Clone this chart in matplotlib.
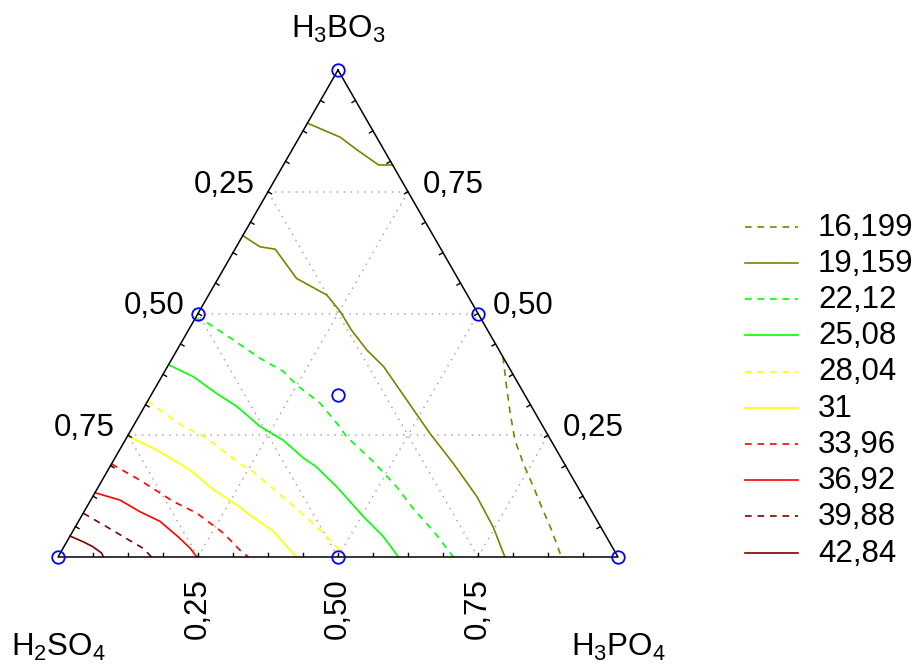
import numpy as np
import matplotlib
matplotlib.use('Agg')
import matplotlib.pyplot as plt

plt.rcParams['font.family'] = ['Liberation Sans', 'DejaVu Sans']
plt.rcParams['mathtext.fontset'] = 'custom'
plt.rcParams['mathtext.rm'] = 'Liberation Sans'

# contour levels and legend labels
levels = [16.199, 19.159, 22.12, 25.08, 28.04, 31, 33.96, 36.92, 39.88, 42.84]
level_labels = ['16,199', '19,159', '22,12', '25,08', '28,04', '31',
                '33,96', '36,92', '39,88', '42,84']
level_colors = ['#808000', '#808000', '#00ff00', '#00ff00', '#ffff00', '#ffff00',
                '#ff0000', '#ff0000', '#800000', '#800000']

# contour lines: fraction of H3BO3 (boric) and H3PO4 (phos)
c16199_boric = [0.411, 0.350, 0.295, 0.240, 0.192, 0.144, 0.103, 0.055, 0.0]
c16199_phos = [0.589, 0.626, 0.660, 0.696, 0.735, 0.777, 0.812, 0.854, 0.899]

c19159_top_boric = [0.891, 0.877, 0.862, 0.836, 0.805, 0.805]
c19159_top_phos = [0.0, 0.035, 0.073, 0.116, 0.170, 0.195]

c19159_boric = [0.660, 0.637, 0.632, 0.572, 0.538, 0.504, 0.466, 0.425, 0.391,
                0.322, 0.254, 0.192, 0.124, 0.062, 0.0]
c19159_phos = [0.0, 0.042, 0.072, 0.140, 0.211, 0.252, 0.291, 0.339, 0.386,
               0.462, 0.537, 0.610, 0.686, 0.746, 0.798]

c22120_boric = [0.491, 0.480, 0.446, 0.408, 0.381, 0.353, 0.316, 0.271, 0.247,
                0.196, 0.144, 0.100, 0.049, 0.0]
c22120_phos = [0.0, 0.028, 0.090, 0.157, 0.212, 0.250, 0.310, 0.365, 0.392,
               0.465, 0.533, 0.584, 0.649, 0.706]

c25080_boric = [0.395, 0.370, 0.336, 0.309, 0.268, 0.240, 0.203, 0.185, 0.144,
                0.083, 0.042, 0.0]
c25080_phos = [0.0, 0.057, 0.115, 0.165, 0.227, 0.282, 0.337, 0.369, 0.426,
               0.504, 0.560, 0.608]

c28040_boric = [0.320, 0.268, 0.244, 0.192, 0.175, 0.134, 0.093, 0.049, 0.0]
c28040_phos = [0.0, 0.090, 0.144, 0.229, 0.261, 0.324, 0.386, 0.449, 0.516]

c31000_boric = [0.249, 0.220, 0.179, 0.138, 0.103, 0.086, 0.055, 0.0]
c31000_phos = [0.0, 0.066, 0.146, 0.209, 0.273, 0.300, 0.355, 0.426]

c33960_boric = [0.191, 0.158, 0.114, 0.090, 0.049, 0.014, 0.0]
c33960_phos = [0.0, 0.067, 0.149, 0.203, 0.271, 0.318, 0.340]

c36920_boric = [0.132, 0.117, 0.093, 0.073, 0.038, 0.018, 0.0]
c36920_phos = [0.0, 0.052, 0.100, 0.146, 0.199, 0.227, 0.248]

c39880_boric = [0.090, 0.062, 0.036, 0.018, 0.0]
c39880_phos = [0.0, 0.056, 0.107, 0.143, 0.167]

c42840_boric = [0.043, 0.031, 0.021, 0.008, 0.0]
c42840_phos = [0.0, 0.030, 0.052, 0.074, 0.081]

# design points (simplex centroid)
design_boric = [1, 0, 0, 0.5, 0.5, 0, 1 / 3]
design_phos = [0, 0, 1, 0, 0.5, 0.5, 1 / 3]

grid_vals = [0.25, 0.5, 0.75]
grid_labels = ['0,25', '0,50', '0,75']

contours = [
    (0, c16199_boric, c16199_phos),
    (1, c19159_top_boric, c19159_top_phos),
    (1, c19159_boric, c19159_phos),
    (2, c22120_boric, c22120_phos),
    (3, c25080_boric, c25080_phos),
    (4, c28040_boric, c28040_phos),
    (5, c31000_boric, c31000_phos),
    (6, c33960_boric, c33960_phos),
    (7, c36920_boric, c36920_phos),
    (8, c39880_boric, c39880_phos),
    (9, c42840_boric, c42840_phos),
]


def tern(boric, phos):
    boric = np.asarray(boric, dtype=float)
    phos = np.asarray(phos, dtype=float)
    return phos + boric / 2, boric


def style(i):
    return (0, (4, 3.5)) if i % 2 == 0 else '-'


fig = plt.figure(figsize=(9.2, 6.7), dpi=100)
ax = fig.add_axes([58 / 920, 113 / 670, 560 / 920, 487 / 670])
ax.set_xlim(0, 1)
ax.set_ylim(0, 1)
ax.axis('off')

fs = 22.5

# dotted grid
for k in grid_vals:
    for b, p in [([k, k], [0, 1 - k]), ([0, 1 - k], [k, k]), ([0, 1 - k], [1 - k, 0])]:
        x, y = tern(b, p)
        ax.plot(x, y, color='#aaaaaa', lw=1.1, ls=(0, (1, 3.5)), zorder=1)

# contour lines
for i, b, p in contours:
    x, y = tern(b, p)
    ax.plot(x, y, color=level_colors[i], lw=1.2, ls=style(i), zorder=3)

# triangle edges
x, y = tern([1, 0, 0, 1], [0, 0, 1, 0])
ax.plot(x, y, color='black', lw=1.1, zorder=4, clip_on=False)

# small inward ticks every 1/16
tl = 4.0
for t in np.arange(1, 16) / 16:
    # bottom edge
    x0, y0 = tern(0, t)
    ax.plot([x0, x0], [y0, y0 + tl / 487], color='black', lw=1.0, zorder=4)
    # left edge
    x0, y0 = tern(t, 0)
    ax.plot([x0, x0 + 0.867 * tl / 560], [y0, y0 - 0.498 * tl / 487], color='black', lw=1.0, zorder=4)
    # right edge
    x0, y0 = tern(t, 1 - t)
    ax.plot([x0, x0 - 0.867 * tl / 560], [y0, y0 - 0.498 * tl / 487], color='black', lw=1.0, zorder=4)

# design points
x, y = tern(design_boric, design_phos)
ax.plot(x, y, 'o', ms=9, mfc='none', mec='#0000ff', mew=1.3, zorder=5, clip_on=False)

# tick labels
for k, lab in zip(grid_vals, grid_labels):
    ax.annotate(lab, tern(0, k), xytext=(0, -52), textcoords='offset pixels',
                rotation=90, ha='center', va='center', fontsize=fs)
    ax.annotate(lab, tern(1 - k, 0), xytext=(-13, 7), textcoords='offset pixels',
                ha='right', va='center', fontsize=fs)
    ax.annotate(lab, tern(k, 1 - k), xytext=(15, 7), textcoords='offset pixels',
                ha='left', va='center', fontsize=fs)

# vertex labels
ax.annotate(r'H$_\mathregular{3}$BO$_\mathregular{3}$', tern(1, 0), xytext=(0, 41),
            textcoords='offset pixels', ha='center', va='center', fontsize=fs)
ax.annotate(r'H$_\mathregular{2}$SO$_\mathregular{4}$', tern(0, 0), xytext=(0, -90),
            textcoords='offset pixels', ha='center', va='center', fontsize=fs)
ax.annotate(r'H$_\mathregular{3}$PO$_\mathregular{4}$', tern(0, 1), xytext=(0, -90),
            textcoords='offset pixels', ha='center', va='center', fontsize=fs)

# legend in pixel coordinates
lax = fig.add_axes([0, 0, 1, 1])
lax.set_xlim(0, 920)
lax.set_ylim(670, 0)
lax.axis('off')
for i, lab in enumerate(level_labels):
    yy = 226.7 + 36.2 * i
    lax.plot([745, 798], [yy, yy], color=level_colors[i], lw=1.2, ls=style(i))
    lax.text(818, yy + 1, lab, ha='left', va='center', fontsize=fs)

fig.savefig('out.png', dpi=100)
